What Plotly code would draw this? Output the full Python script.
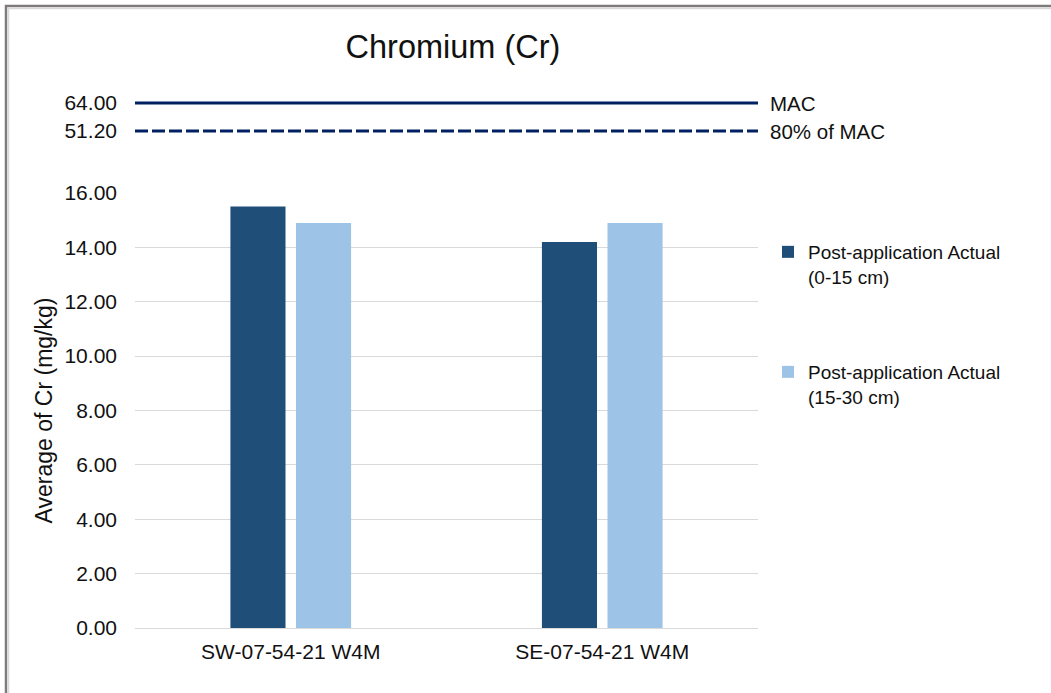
import plotly.graph_objects as go

# ---- data ----
categories = ["SW-07-54-21 W4M", "SE-07-54-21 W4M"]
series_names = ["Post-application Actual<br>(0-15 cm)", "Post-application Actual<br>(15-30 cm)"]
values_0_15 = [15.5, 14.2]
values_15_30 = [14.9, 14.9]
mac_value = 64.0
mac80_value = 51.2
mac_labels = ["MAC", "80% of MAC"]

# ---- layout geometry (pixels) ----
W, H = 1051, 693
L, R = 135, 758          # plot area left/right
TOP, BOT = 93, 628       # plot area top/bottom
PW, PH = R - L, BOT - TOP

def px_x(p):
    return (p - L) / PW

def px_y(p):
    return (BOT - p) / PH

FONT = "Liberation Sans, Arial, sans-serif"
TXT = "#111111"
DARK = "#1F4E79"
LIGHT = "#9DC3E6"
NAVY = "#002060"
GRID = "#D9D9D9"

fig = go.Figure()
fig.add_trace(go.Bar(x=categories, y=values_0_15, name=series_names[0],
                     marker=dict(color=DARK, line=dict(width=0)),
                     legend="legend", xaxis="x", yaxis="y"))
fig.add_trace(go.Bar(x=categories, y=values_15_30, name=series_names[1],
                     marker=dict(color=LIGHT, line=dict(width=0)),
                     legend="legend2", xaxis="x", yaxis="y"))

fig.add_trace(go.Scatter(x=[0, 1], y=[mac_value, mac_value], mode="lines",
                         line=dict(color=NAVY, width=3), showlegend=False,
                         xaxis="x2", yaxis="y2", hoverinfo="skip"))
fig.add_trace(go.Scatter(x=[0, 1], y=[mac80_value, mac80_value], mode="lines",
                         line=dict(color=NAVY, width=3, dash="13px,4px"), showlegend=False,
                         xaxis="x2", yaxis="y2", hoverinfo="skip"))

# upper axis range mapping: 64 at y=103px, 51.2 at y=131px
upp = (mac_value - mac80_value) / (131 - 103)
y2_dom_bot_px = 141
y2_lo = mac80_value - (y2_dom_bot_px - 131) * upp
y2_hi = mac_value + (103 - TOP) * upp

for lab, val in zip(mac_labels, [mac_value, mac80_value]):
    fig.add_annotation(x=1, y=val, xref="x2", yref="y2", text=lab, showarrow=False,
                       xanchor="left", yanchor="middle", xshift=10,
                       font=dict(family=FONT, size=20.5, color=TXT))

fig.update_layout(
    width=W, height=H,
    margin=dict(l=L, r=W - R, t=TOP, b=H - BOT, pad=0),
    paper_bgcolor="white", plot_bgcolor="white",
    font=dict(family=FONT, color=TXT),
    title=dict(text="Chromium (Cr)", x=453 / W, xref="container", xanchor="center",
               y=1 - 47 / H, yref="container", yanchor="middle",
               font=dict(family=FONT, size=32.5, color=TXT)),
    barmode="group", bargap=0.579, bargroupgap=0.16,
    xaxis=dict(domain=[0, 1], anchor="y", showgrid=False, zeroline=False, showline=False,
               ticks="", ticklabelstandoff=9,
               tickfont=dict(family=FONT, size=21, color=TXT)),
    yaxis=dict(domain=[0, px_y(193)], range=[0, 16], dtick=2, tickformat=".2f",
               showgrid=True, gridcolor=GRID, gridwidth=1.3,
               zeroline=True, zerolinecolor=GRID, zerolinewidth=1.3,
               showline=False, ticks="", ticklabelstandoff=17,
               tickfont=dict(family=FONT, size=21, color=TXT),
               title=dict(text="Average of Cr (mg/kg)", standoff=5,
                          font=dict(family=FONT, size=23, color=TXT))),
    xaxis2=dict(domain=[0, 1], anchor="y2", range=[0, 1], visible=False),
    yaxis2=dict(domain=[px_y(y2_dom_bot_px), 1], anchor="x2", range=[y2_lo, y2_hi],
                tickvals=[mac80_value, mac_value], tickformat=".2f",
                showgrid=False, zeroline=False, showline=False, ticks="",
                ticklabelstandoff=17,
                tickfont=dict(family=FONT, size=21, color=TXT)),
    legend=dict(x=px_x(768), y=px_y(233), xanchor="left", yanchor="top",
                valign="top", bgcolor="rgba(0,0,0,0)", itemwidth=30,
                font=dict(family=FONT, size=19, color=TXT)),
    legend2=dict(x=px_x(768), y=px_y(353), xanchor="left", yanchor="top",
                 valign="top", bgcolor="rgba(0,0,0,0)", itemwidth=30,
                 font=dict(family=FONT, size=19, color=TXT)),
    shapes=[
        dict(type="rect", xref="paper", yref="paper",
             x0=px_x(6), x1=px_x(1100), y0=px_y(760), y1=px_y(6),
             line=dict(color="#7F7B7B", width=2.5), fillcolor="rgba(0,0,0,0)", layer="above"),
        dict(type="rect", xref="paper", yref="paper",
             x0=px_x(8.5), x1=px_x(1100), y0=px_y(760), y1=px_y(8.5),
             line=dict(color="#D9D9D9", width=1.5), fillcolor="rgba(0,0,0,0)", layer="above"),
    ],
)

fig.write_html("out.html")
